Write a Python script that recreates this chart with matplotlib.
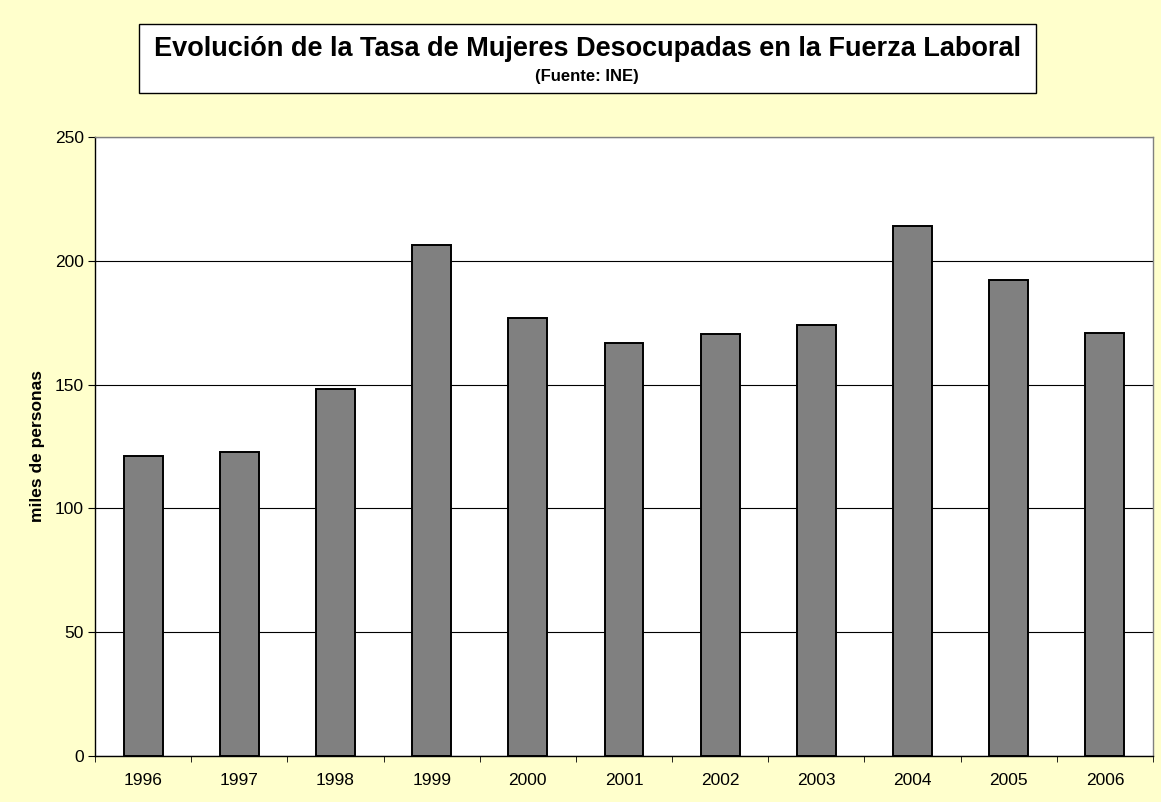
import matplotlib.pyplot as plt
import numpy as np

years = ["1996", "1997", "1998", "1999", "2000", "2001", "2002", "2003", "2004", "2005", "2006"]
desocupadas = [121.1, 122.8, 148.2, 206.4, 177.0, 166.9, 170.3, 173.9, 214.0, 192.3, 170.8]
y_ticks = [0, 50, 100, 150, 200, 250]

plt.rcParams["font.family"] = ["Liberation Sans", "DejaVu Sans"]

fig = plt.figure(figsize=(11.61, 8.02), dpi=100, facecolor="#FFFFCC")
ax = fig.add_axes([95 / 1161, 46 / 802, 1058 / 1161, 619 / 802])
ax.set_facecolor("white")

x = np.arange(len(years))
ax.bar(x, desocupadas, width=0.405, color="#808080", edgecolor="black",
       linewidth=1.4, zorder=3)

ax.set_xlim(-0.5, len(years) - 0.5)
ax.set_ylim(0, 250)
ax.set_yticks(y_ticks)
ax.set_yticklabels([str(v) for v in y_ticks], fontsize=12.5)
ax.set_xticks(x)
ax.set_xticklabels(years, fontsize=12.5)
ax.set_xticks(np.arange(len(years) + 1) - 0.5, minor=True)
ax.tick_params(axis="x", which="major", length=0, pad=12)
ax.tick_params(axis="x", which="minor", length=4, direction="out", color="black")
ax.tick_params(axis="y", length=5, direction="out", pad=3)

ax.yaxis.grid(True, color="black", linewidth=0.8, zorder=0)
ax.set_axisbelow(True)

for side in ["top", "right"]:
    ax.spines[side].set_color("#808080")
    ax.spines[side].set_linewidth(1)
for side in ["left", "bottom"]:
    ax.spines[side].set_color("black")
    ax.spines[side].set_linewidth(1)

ax.set_ylabel("miles de personas", fontsize=12.5, fontweight="bold", labelpad=7)

# caja del titulo
fig.patches.append(plt.Rectangle((139 / 1161, 1 - 93 / 802), 897 / 1161, 69 / 802,
                                 transform=fig.transFigure, facecolor="white",
                                 edgecolor="black", linewidth=1))
fig.text(587 / 1161, 1 - 56 / 802, "Evolución de la Tasa de Mujeres Desocupadas en la Fuerza Laboral",
         ha="center", va="baseline", fontsize=19.5, fontweight="bold")
fig.text(587 / 1161, 1 - 81 / 802, "(Fuente: INE)",
         ha="center", va="baseline", fontsize=12, fontweight="bold")

fig.savefig("out.png", dpi=100, facecolor=fig.get_facecolor())
